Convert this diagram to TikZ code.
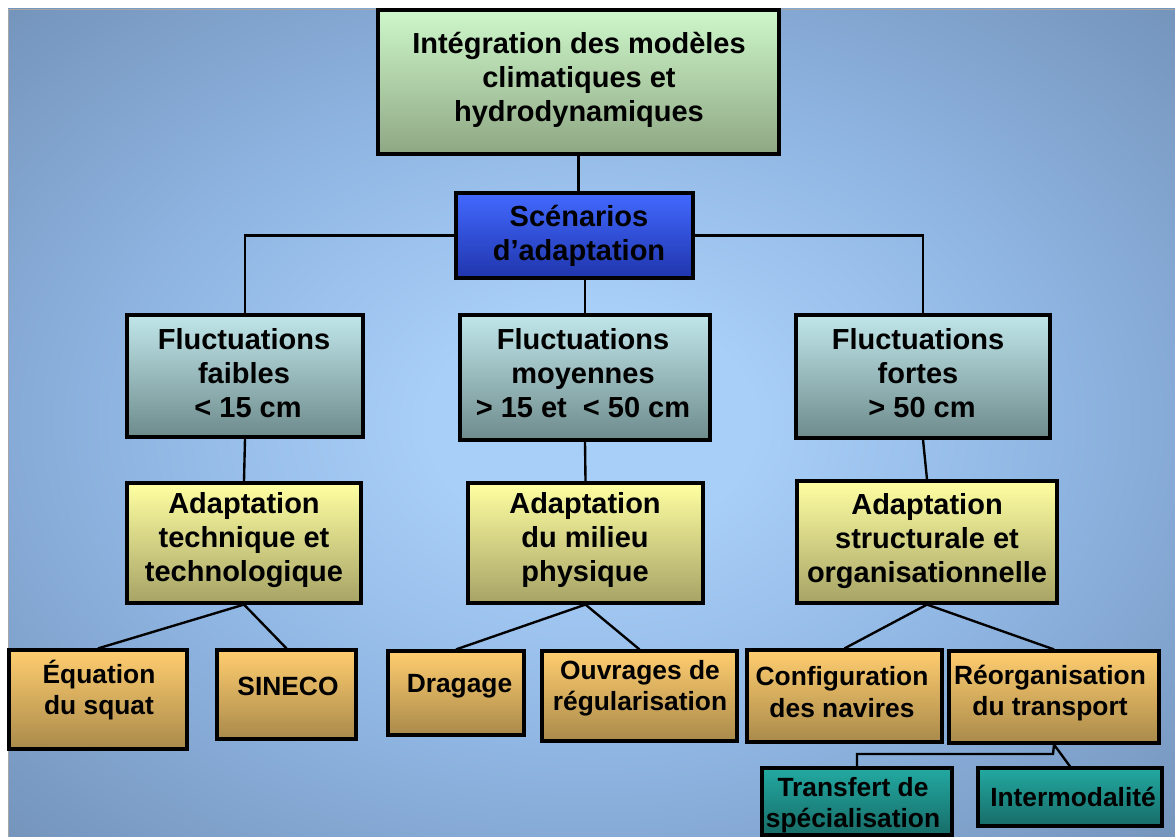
\documentclass[tikz,border=0pt]{standalone}
\usepackage{fontspec}
\setmainfont{Liberation Sans}
\usetikzlibrary{calc}
\pgfdeclarelayer{bg}
\pgfdeclarelayer{wires}
\pgfsetlayers{bg,wires,main}
\definecolor{bgA}{HTML}{A8CFF7}
\definecolor{bgB}{HTML}{8FB5E2}
\definecolor{bgC}{HTML}{7393BA}
\definecolor{bgD}{HTML}{6885A9}
\pgfdeclareradialshading{bgshade}{\pgfpoint{0bp}{0bp}}{color(0bp)=(bgA); color(7bp)=(bgA); color(20bp)=(bgB); color(36bp)=(bgC); color(50bp)=(bgD); color(80bp)=(bgD)}
\definecolor{grTop}{HTML}{CEF7CB}
\definecolor{grBot}{HTML}{8EA783}
\definecolor{blTop}{HTML}{4269FF}
\definecolor{blBot}{HTML}{2035AC}
\definecolor{cyTop}{HTML}{C0E6EA}
\definecolor{cyBot}{HTML}{6E8B8C}
\definecolor{yeTop}{HTML}{FFFFA2}
\definecolor{yeBot}{HTML}{A6A366}
\definecolor{orTop}{HTML}{FFCD6F}
\definecolor{orBot}{HTML}{A98A4B}
\definecolor{teTop}{HTML}{22A9A1}
\definecolor{teBot}{HTML}{186C68}
\tikzset{
  box/.style={draw=black, line width=1.8pt, inner sep=0pt},
  green box/.style={box, top color=grTop, bottom color=grBot},
  blue box/.style={box, top color=blTop, bottom color=blBot},
  cyan box/.style={box, top color=cyTop, bottom color=cyBot},
  yellow box/.style={box, top color=yeTop, bottom color=yeBot},
  orange box/.style={box, top color=orTop, bottom color=orBot},
  teal box/.style={box, top color=teTop, bottom color=teBot},
  bigtxt/.style={align=center, inner sep=0pt, text=black, font=\bfseries\fontsize{16.5}{19.4}\selectfont},
  smalltxt/.style={align=center, inner sep=0pt, text=black, font=\bfseries\fontsize{15}{17.8}\selectfont},
  wire/.style={draw=black, line width=1.35pt}
}
\begin{document}
\begin{tikzpicture}[x=0.02cm,y=-0.02cm]
\useasboundingbox (0,0) rectangle (1175,837);
\begin{pgfonlayer}{bg}
\fill[white] (0,0) rectangle (1175,837);
\shade[shading=bgshade] (8,9) rectangle (1175,837);
\draw[black!35, line width=0.5pt] (8,837) -- (8,9) -- (1175,9);
\end{pgfonlayer}

% level 0
\node[green box, minimum width=8.02cm, minimum height=2.88cm] (A) at (578.5,82) {};
\node[bigtxt] (At) at (579,80) {Intégration des modèles\\climatiques et\\hydrodynamiques};
% level 1
\node[blue box, minimum width=4.74cm, minimum height=1.70cm] (S) at (574.5,235.5) {};
\node[bigtxt] (St) at (579,236) {Scénarios\\d’adaptation};
% level 2
\node[cyan box, minimum width=4.72cm, minimum height=2.44cm] (F1) at (245,376) {};
\node[bigtxt] (F1t) at (244,373) {Fluctuations\\faibles\\\ {<} 15 cm};
\node[cyan box, minimum width=5.00cm, minimum height=2.50cm] (F2) at (585,377.5) {};
\node[bigtxt] (F2t) at (583,373) {Fluctuations\\moyennes\\{>} 15 et\ \ {<} 50 cm};
\node[cyan box, minimum width=5.08cm, minimum height=2.46cm] (F3) at (923,376.5) {};
\node[bigtxt] (F3t) at (918,373) {Fluctuations\\fortes\\\ {>} 50 cm};
% level 3
\node[yellow box, minimum width=4.68cm, minimum height=2.40cm] (A1) at (244,543) {};
\node[bigtxt] (A1t) at (244,540) {Adaptation\\technique et\\technologique};
\node[yellow box, minimum width=4.70cm, minimum height=2.40cm] (A2) at (585.5,543) {};
\node[bigtxt] (A2t) at (585,540) {Adaptation\\du milieu\\physique};
\node[yellow box, minimum width=5.20cm, minimum height=2.44cm] (A3) at (927,542) {};
\node[bigtxt] (A3t) at (927,541) {Adaptation\\structurale et\\organisationnelle};
% level 4
\node[orange box, minimum width=3.56cm, minimum height=1.98cm] (E) at (98,699.5) {};
\node[smalltxt] (Et) at (99,690) {Équation\\du squat};
\node[orange box, minimum width=2.78cm, minimum height=1.78cm] (SI) at (286.5,694.5) {};
\node[smalltxt] (SIt) at (288,686) {SINECO};
\node[orange box, minimum width=2.72cm, minimum height=1.68cm] (D) at (456,693) {};
\node[smalltxt] (Dt) at (459.5,686) {Dragage};
\node[orange box, minimum width=3.90cm, minimum height=1.80cm] (O) at (639.5,696) {};
\node[smalltxt] (Ot) at (640,688) {Ouvrages de\\régularisation};
\node[orange box, minimum width=3.90cm, minimum height=1.84cm] (C) at (844.5,696) {};
\node[smalltxt] (Ct) at (842,692) {Configuration\\des navires};
\node[orange box, minimum width=4.20cm, minimum height=1.84cm] (R) at (1054,697) {};
\node[smalltxt] (Rt) at (1050,693) {Réorganisation\\du transport};
% level 5
\node[teal box, minimum width=3.80cm, minimum height=1.34cm] (T) at (857,801.5) {};
\node[smalltxt] (Tt) at (853,805) {Transfert de\\spécialisation};
\node[teal box, minimum width=3.68cm, minimum height=1.16cm] (I) at (1070,797) {};
\node[smalltxt] (It) at (1073,797) {Intermodalité};

\coordinate (rj) at (1053,754);
\begin{pgfonlayer}{wires}
\draw[wire] (A.south) -- (A.south |- S.north);
\draw[wire] (F1.north) |- (S.west);
\draw[wire] (F3.north) |- (S.east);
\draw[wire] (S.south -| F2.north) -- (F2.north);
\draw[wire] (F1.south) -- (A1.north);
\draw[wire] (F2.south) -- (A2.north);
\draw[wire] (F3.south) -- (A3.north);
\draw[wire] (A1.south) -- (E.north);
\draw[wire] (A1.south) -- (SI.north);
\draw[wire] (A2.south) -- (D.north);
\draw[wire] (A2.south) -- (O.north);
\draw[wire] (A3.south) -- (C.north);
\draw[wire] (A3.south) -- (R.north);
\draw[wire] (R.south) -- (rj) -| (T.north);
\draw[wire] (R.south) -- (I.north);
\end{pgfonlayer}
\end{tikzpicture}
\end{document}
